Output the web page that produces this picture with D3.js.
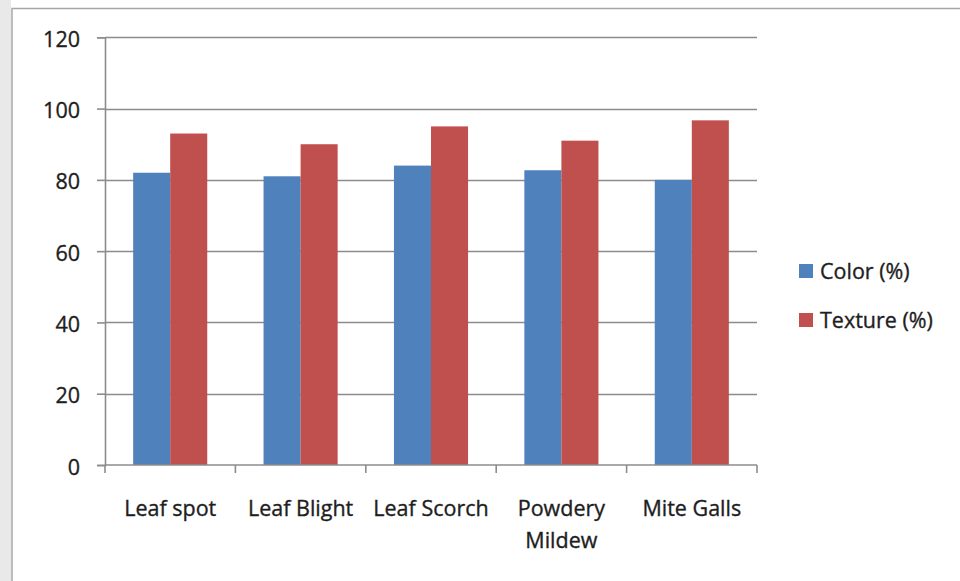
<!DOCTYPE html>
<html>
<head>
<meta charset="utf-8">
<script src="https://cdn.jsdelivr.net/npm/d3@7"></script>
<style>
  html, body { margin: 0; padding: 0; background: #fff; }
  svg { display: block; }
  text { font-family: "Open Sans", Lato, sans-serif; fill: #1e1e1e; stroke: #1e1e1e; stroke-width: 0.35px; }
</style>
</head>
<body>
<svg id="chart" width="960" height="581"></svg>
<script>
const categories = ["Leaf spot", "Leaf Blight", "Leaf Scorch", "Powdery Mildew", "Mite Galls"];
const seriesNames = ["Color (%)", "Texture (%)"];
const colorValues = [82, 81, 84, 82.7, 80];
const textureValues = [93, 90, 95, 91, 96.7];
const yTicks = [0, 20, 40, 60, 80, 100, 120];
const seriesColors = ["#4f81bd", "#c0504d"];

const FONT = "'Open Sans', Lato, sans-serif";
const FS = 21.5;

const svg = d3.select("#chart");

// page background strip and chart frame
svg.append("rect").attr("x", 0).attr("y", 0).attr("width", 11).attr("height", 581).attr("fill", "#e9e9e9");
svg.append("rect").attr("x", 12).attr("y", 8.5).attr("width", 960).attr("height", 600)
  .attr("fill", "#fff").attr("stroke", "#a6a6a6").attr("stroke-width", 1.5);

const plot = { left: 105, right: 757, top: 37.3, bottom: 465 };

const x = d3.scaleBand().domain(categories).range([plot.left, plot.right]).paddingInner(0).paddingOuter(0);
const xs = d3.scaleBand().domain(seriesNames).range([0, x.bandwidth()]).paddingInner(0).paddingOuter(0.76);
const y = d3.scaleLinear().domain([0, 120]).range([plot.bottom, plot.top]);

// gridlines
svg.append("g").selectAll("line").data(yTicks.filter(t => t > 0)).join("line")
  .attr("x1", plot.left).attr("x2", plot.right)
  .attr("y1", d => Math.round(y(d)) + 0.5).attr("y2", d => Math.round(y(d)) + 0.5)
  .attr("stroke", "#8c8c8c").attr("stroke-width", 1.6);

// bars
const data = categories.map((c, i) => ({ c, vals: [colorValues[i], textureValues[i]] }));
const groups = svg.append("g").selectAll("g").data(data).join("g")
  .attr("transform", d => `translate(${x(d.c)},0)`);
groups.selectAll("rect").data(d => d.vals.map((v, j) => ({ s: seriesNames[j], v, j }))).join("rect")
  .attr("x", d => xs(d.s)).attr("width", xs.bandwidth())
  .attr("y", d => y(d.v)).attr("height", d => y(0) - y(d.v))
  .attr("fill", d => seriesColors[d.j]);

// y axis
const yAxis = d3.axisLeft(y).tickValues(yTicks).tickSize(8).tickPadding(17);
const gy = svg.append("g").attr("transform", `translate(${plot.left},0)`).call(yAxis);
gy.select(".domain").attr("stroke", "#8c8c8c").attr("stroke-width", 1.6);
gy.selectAll(".tick line").attr("stroke", "#8c8c8c").attr("stroke-width", 1.6);
gy.selectAll(".tick text").attr("font-size", FS).attr("dy", "0.42em")
  .style("font-family", FONT).attr("fill", "#1e1e1e");

// x axis baseline
svg.append("line").attr("x1", plot.left).attr("x2", plot.right)
  .attr("y1", y(0)).attr("y2", y(0)).attr("stroke", "#8c8c8c").attr("stroke-width", 1.6);

// x boundary ticks
const boundaries = categories.map(c => x(c)).concat([x(categories[categories.length - 1]) + x.bandwidth()]);
svg.append("g").selectAll("line").data(boundaries).join("line")
  .attr("x1", d => d).attr("x2", d => d)
  .attr("y1", y(0)).attr("y2", y(0) + 8)
  .attr("stroke", "#8c8c8c").attr("stroke-width", 1.6);

// x labels with wrapping
const xAxis = d3.axisBottom(x).tickSize(0).tickPadding(0);
const gx = svg.append("g").attr("transform", `translate(0,${plot.bottom})`).call(xAxis);
gx.select(".domain").remove();
gx.selectAll(".tick text").each(function(d) {
  const t = d3.select(this);
  t.text(null).attr("font-size", FS).attr("y", 0).attr("dy", null)
    .style("font-family", FONT).attr("fill", "#1e1e1e");
  const words = d.split(" ");
  const lines = [];
  let cur = [];
  const probe = t.append("tspan");
  for (const w of words) {
    const test = cur.concat([w]).join(" ");
    probe.text(test);
    if (probe.node().getComputedTextLength() > x.bandwidth() * 0.97 && cur.length) {
      lines.push(cur.join(" "));
      cur = [w];
    } else cur.push(w);
  }
  lines.push(cur.join(" "));
  probe.remove();
  lines.forEach((ln, i) => {
    t.append("tspan").attr("x", 0).attr("y", 51 + i * 32).text(ln);
  });
});

// legend
const legend = svg.append("g").selectAll("g").data(seriesNames).join("g")
  .attr("transform", (d, i) => `translate(799,${264 + i * 49})`);
legend.append("rect").attr("width", 14).attr("height", 14).attr("fill", (d, i) => seriesColors[i]);
legend.append("text").attr("x", 21).attr("y", 7).attr("dy", "0.36em")
  .attr("font-size", FS).style("font-family", FONT).text(d => d);
</script>
</body>
</html>
